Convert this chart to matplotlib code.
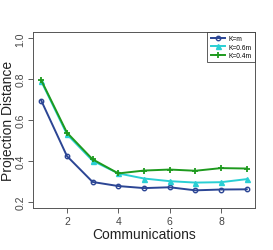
import matplotlib
matplotlib.use("Agg")
import matplotlib.pyplot as plt

plt.rcParams["font.family"] = ["Liberation Sans", "DejaVu Sans"]

communications = [1, 2, 3, 4, 5, 6, 7, 8, 9]
k_m = [0.695, 0.423, 0.296, 0.276, 0.266, 0.270, 0.255, 0.259, 0.260]
k_06m = [0.790, 0.530, 0.400, 0.338, 0.313, 0.300, 0.293, 0.295, 0.310]
k_04m = [0.795, 0.538, 0.407, 0.338, 0.352, 0.357, 0.351, 0.364, 0.362]
labels = ["K=m", "K=0.6m", "K=0.4m"]

fig = plt.figure(figsize=(2.73, 2.51), dpi=100)
ax = fig.add_axes([0.121, 0.167, 0.813, 0.702])

ax.plot(communications, k_m, color="#2B4594", lw=1.4, marker="o", ms=3.2,
        mfc="none", mec="#2B4594", mew=1.0, label=labels[0])
ax.plot(communications, k_06m, color="#2ACFD4", lw=1.4, marker="^", ms=3.6,
        label=labels[1])
ax.plot(communications, k_04m, color="#1E9A1E", lw=1.4, marker="+", ms=5,
        mew=1.3, label=labels[2])

ax.set_xlim(0.68, 9.32)
ax.set_ylim(0.168, 1.032)
ax.set_xticks([2, 4, 6, 8])
ax.set_yticks([0.2, 0.4, 0.6, 0.8, 1.0])
ax.set_yticklabels(["0.2", "0.4", "0.6", "0.8", "1.0"], rotation=90, va="center")
ax.tick_params(axis="both", direction="out", length=3.5, width=0.6,
               labelsize=7.5, colors="#444444", pad=2)
for s in ax.spines.values():
    s.set_color("#555555")
    s.set_linewidth(0.7)

ax.set_xlabel("Communications", fontsize=10, labelpad=1, color="#222222")
ax.set_ylabel("Projection Distance", fontsize=10, color="#222222")
ax.yaxis.set_label_coords(-0.081, 0.503)

leg = ax.legend(loc="upper right", fontsize=4.8, frameon=True, fancybox=False,
                borderaxespad=0, handlelength=2.2, handletextpad=0.5,
                labelspacing=0.2, borderpad=0.5)
leg.get_frame().set_edgecolor("#333333")
leg.get_frame().set_linewidth(0.7)

fig.savefig("out.png", dpi=100, facecolor="white")
